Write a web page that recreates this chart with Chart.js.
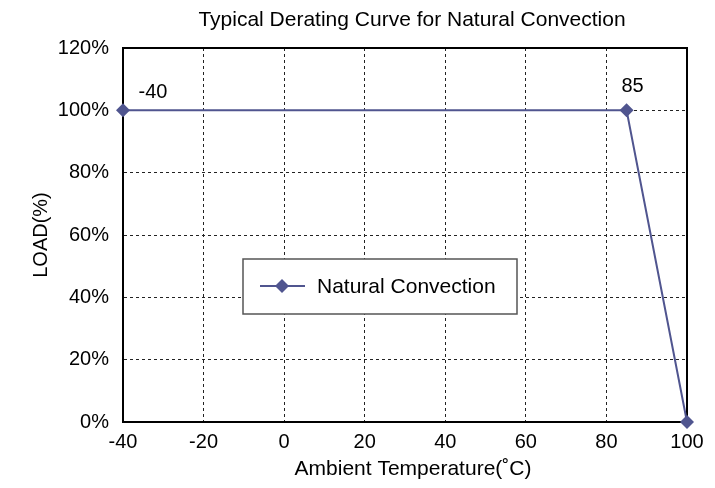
<!DOCTYPE html>
<html>
<head>
<meta charset="utf-8">
<script src="https://cdn.jsdelivr.net/npm/chart.js@4/dist/chart.umd.min.js"></script>
<style>
  html, body { margin: 0; padding: 0; background: #fff; }
  #wrap { width: 715px; height: 488px; position: relative; }
</style>
</head>
<body>
<div id="wrap"><canvas id="c" width="715" height="488"></canvas></div>
<script>
const titleText = 'Typical Derating Curve for Natural Convection';
const seriesName = 'Natural Convection';
const temps = [-40, 85, 100];
const loads = [100, 100, 0];
const pointLabels = ['-40', '85', ''];
const xTitle = 'Ambient Temperature(˚C)';
const yTitle = 'LOAD(%)';
const xMin = -40, xMax = 100, xStep = 20;
const yMin = 0, yMax = 120, yStep = 20;

const FONT = "'Liberation Sans', Arial, sans-serif";
const LINE_COLOR = '#50558F';

const decor = {
  id: 'decor',
  beforeDatasetsDraw(chart) {
    const ctx = chart.ctx;
    const a = chart.chartArea;
    ctx.save();
    ctx.setLineDash([]);
    ctx.strokeStyle = '#000';
    ctx.lineWidth = 2;
    ctx.strokeRect(a.left, a.top, a.right - a.left, a.bottom - a.top);
    ctx.restore();
  },
  afterDraw(chart) {
    const ctx = chart.ctx;
    const a = chart.chartArea;
    const xs = chart.scales.x, ys = chart.scales.y;
    ctx.save();
    // title
    ctx.fillStyle = '#000';
    ctx.font = '21px ' + FONT;
    ctx.textAlign = 'center';
    ctx.textBaseline = 'middle';
    ctx.fillText(titleText, (a.left + a.right) / 2 + 7, 20);
    // axis titles
    ctx.fillText(xTitle, (a.left + a.right) / 2 + 8, 469);
    ctx.save();
    ctx.font = '20px ' + FONT;
    ctx.translate(41, (a.top + a.bottom) / 2);
    ctx.rotate(-Math.PI / 2);
    ctx.fillText(yTitle, 0, 0);
    ctx.restore();
    // point labels
    const offs = [[30, -18], [6, -24], [0, 0]];
    ctx.font = '20px ' + FONT;
    temps.forEach((t, i) => {
      if (!pointLabels[i]) return;
      const px = xs.getPixelForValue(t), py = ys.getPixelForValue(loads[i]);
      ctx.fillText(pointLabels[i], px + offs[i][0], py + offs[i][1]);
    });
    // legend box
    const bx = 243, by = 259, bw = 274, bh = 55;
    ctx.fillStyle = '#fff';
    ctx.fillRect(bx, by, bw, bh);
    ctx.strokeStyle = '#555';
    ctx.lineWidth = 1.5;
    ctx.strokeRect(bx, by, bw, bh);
    const ly = by + 27;
    ctx.strokeStyle = LINE_COLOR;
    ctx.lineWidth = 2;
    ctx.beginPath();
    ctx.moveTo(bx + 17, ly);
    ctx.lineTo(bx + 62, ly);
    ctx.stroke();
    ctx.fillStyle = LINE_COLOR;
    const mx = bx + 39, r = 7;
    ctx.beginPath();
    ctx.moveTo(mx, ly - r); ctx.lineTo(mx + r, ly); ctx.lineTo(mx, ly + r); ctx.lineTo(mx - r, ly);
    ctx.closePath(); ctx.fill();
    ctx.fillStyle = '#000';
    ctx.font = '21px ' + FONT;
    ctx.textAlign = 'left';
    ctx.fillText(seriesName, bx + 74, ly + 1);
    ctx.restore();
  }
};

new Chart(document.getElementById('c'), {
  type: 'line',
  data: {
    datasets: [{
      label: seriesName,
      data: temps.map((t, i) => ({ x: t, y: loads[i] })),
      borderColor: LINE_COLOR,
      backgroundColor: LINE_COLOR,
      borderWidth: 2,
      pointStyle: 'rectRot',
      pointRadius: 7,
      pointBorderWidth: 0,
      tension: 0,
      clip: false
    }]
  },
  options: {
    responsive: false,
    animation: false,
    devicePixelRatio: 1,
    layout: { padding: { top: 48, right: 28, bottom: 0, left: 0 } },
    plugins: { legend: { display: false }, title: { display: false }, tooltip: { enabled: false } },
    scales: {
      x: {
        type: 'linear', min: xMin, max: xMax,
        afterFit(s) { s.height = 66; },
        ticks: { stepSize: xStep, color: '#000', font: { family: FONT, size: 20 }, padding: 8, maxRotation: 0 },
        grid: { color: '#222', lineWidth: 1, drawTicks: false },
        border: { display: true, color: '#000', width: 2, dash: [3, 3] }
      },
      y: {
        min: yMin, max: yMax,
        afterFit(s) { s.width = 123; },
        ticks: { stepSize: yStep, color: '#000', font: { family: FONT, size: 20 }, padding: 14, callback: v => v + '%' },
        grid: { color: '#222', lineWidth: 1, drawTicks: false },
        border: { display: true, color: '#000', width: 2, dash: [3, 3] }
      }
    }
  },
  plugins: [decor]
});
</script>
</body>
</html>
